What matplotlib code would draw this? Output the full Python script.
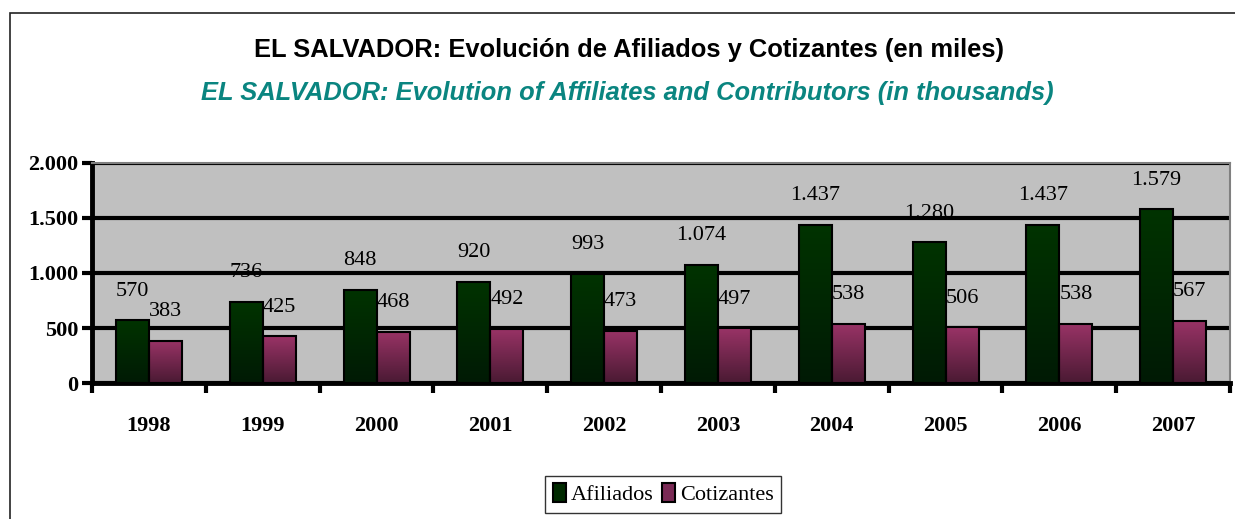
import numpy as np
import matplotlib.pyplot as plt
from matplotlib.patches import Rectangle

# datos
anios = ['1998', '1999', '2000', '2001', '2002', '2003', '2004', '2005', '2006', '2007']
afiliados = [570, 736, 848, 920, 993, 1074, 1437, 1280, 1437, 1579]
cotizantes = [383, 425, 468, 492, 473, 497, 538, 506, 538, 567]
yticks = [0, 500, 1000, 1500, 2000]


def miles(v):
    return f'{v:,}'.replace(',', '.')


def barra_degradado(ax, rect, top_color, bottom_color):
    # rellena la barra con un degradado vertical
    x0, y0 = rect.get_x(), rect.get_y()
    w, h = rect.get_width(), rect.get_height()
    grad = np.linspace(0, 1, 64).reshape(-1, 1)
    c1 = np.array(plt.matplotlib.colors.to_rgb(top_color))
    c2 = np.array(plt.matplotlib.colors.to_rgb(bottom_color))
    img = c2 + (c1 - c2) * grad[..., None]
    im = ax.imshow(img, extent=[x0, x0 + w, y0, y0 + h], origin='lower',
                   aspect='auto', zorder=3, interpolation='bilinear')
    im.set_clip_path(rect)


fig = plt.figure(figsize=(12.35, 5.19), dpi=100)
ax = fig.add_axes([0.0745, 0.262, 0.9215, 0.424])
ax.set_facecolor('#c0c0c0')

x = np.arange(len(anios))
w = 0.29
serif = 'Liberation Serif'

bars_a = ax.bar(x - w / 2, afiliados, w, facecolor='none', edgecolor='black',
                linewidth=1.5, zorder=4)
bars_c = ax.bar(x + w / 2, cotizantes, w, facecolor='none', edgecolor='black',
                linewidth=1.5, zorder=4)
for b in bars_a:
    barra_degradado(ax, b, '#003300', '#001a05')
for b in bars_c:
    barra_degradado(ax, b, '#993366', '#4a1a33')

# etiquetas de valores
for i in range(len(anios)):
    ax.annotate(miles(afiliados[i]), (x[i] - w / 2, afiliados[i]), xytext=(0, 21),
                textcoords='offset points', ha='center', va='center',
                fontsize=16, family=serif, zorder=5)
    ax.annotate(miles(cotizantes[i]), (x[i] + w / 2, cotizantes[i]), xytext=(0, 21),
                textcoords='offset points', ha='center', va='center',
                fontsize=16, family=serif, zorder=5)

ax.set_ylim(0, 2000)
ax.set_xlim(-0.5, len(anios) - 0.5)
ax.set_yticks(yticks)
ax.set_yticklabels([miles(v) for v in yticks], fontsize=16, fontweight='bold', family=serif)
ax.yaxis.grid(True, color='black', linewidth=3, zorder=1)
ax.set_axisbelow(True)

ax.set_xticks(x)
ax.set_xticklabels(anios, fontsize=16, fontweight='bold', family=serif)
ax.tick_params(axis='x', length=0, pad=24)
ax.set_xticks(np.arange(len(anios) + 1) - 0.5, minor=True)
ax.tick_params(axis='x', which='minor', length=7, width=3, direction='out')
ax.tick_params(axis='y', length=7, width=3, direction='out', pad=3)

for s in ['left', 'bottom']:
    ax.spines[s].set_linewidth(3.5)
for s in ['top', 'right']:
    ax.spines[s].set_color('#808080')
    ax.spines[s].set_linewidth(1.5)

# titulos
fig.text(0.509, 0.904, 'EL SALVADOR: Evolución de Afiliados y Cotizantes (en miles)',
         ha='center', va='center', fontsize=18.4, fontweight='bold', family='Liberation Sans')
fig.text(0.508, 0.82, 'EL SALVADOR: Evolution of Affiliates and Contributors (in thousands)',
         ha='center', va='center', fontsize=18.4, fontweight='bold', style='italic',
         color='#0a8580', family='Liberation Sans')

leg = fig.legend([bars_a[0], bars_c[0]], ['Afiliados', 'Cotizantes'],
                 loc='center', bbox_to_anchor=(0.537, 0.0475), ncol=2,
                 prop={'family': serif, 'size': 16}, frameon=True, fancybox=False,
                 handlelength=0.6, handleheight=0.9, handletextpad=0.2,
                 columnspacing=0.4, borderpad=0.35, borderaxespad=0)
leg.get_frame().set_edgecolor('black')
leg.get_frame().set_linewidth(1)
leg.legend_handles[0].set_facecolor('#002a00')
leg.legend_handles[1].set_facecolor('#7a2a55')

# borde del grafico
fig.patches.append(Rectangle((0.0081, -0.1), 1.2, 1.075, transform=fig.transFigure,
                             fill=False, edgecolor='#222222', linewidth=1.2))

fig.savefig('out.png', dpi=100)
